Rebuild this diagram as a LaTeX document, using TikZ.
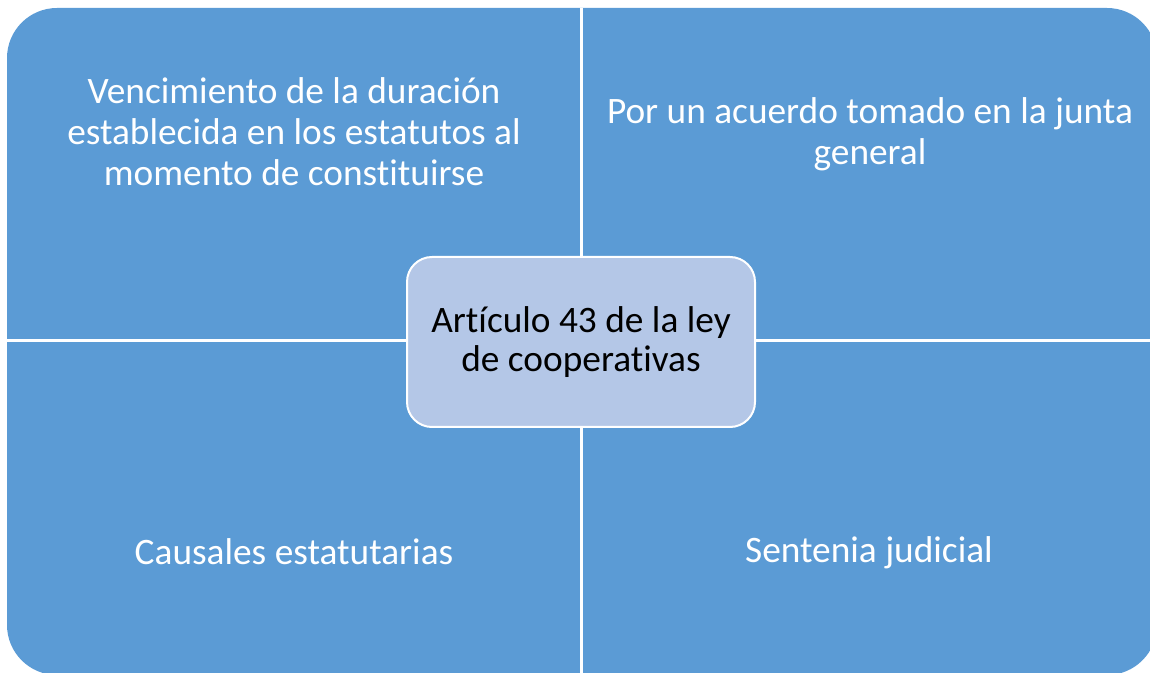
\documentclass[tikz,border=0pt]{standalone}
\usepackage{fontspec}
\setmainfont{Carlito}[Ligatures=NoCommon]
\usetikzlibrary{positioning}
\definecolor{quadblue}{HTML}{5B9BD5}
\definecolor{centreblue}{HTML}{B4C7E7}

\begin{document}
\begin{tikzpicture}[x=0.75pt,y=-0.75pt,
    quadtext/.style={text=white,align=center,font=\fontsize{28}{30.75}\selectfont},
    centrebox/.style={fill=centreblue,draw=white,line width=1.5pt,rounded corners=18.75pt,
      minimum width=261pt,minimum height=127.5pt,inner sep=0pt,align=center,
      font=\fontsize{28}{29.5}\selectfont}]
  \useasboundingbox (0,0) rectangle (1150,673);
  \clip (0,0) rectangle (1150,673);
  % the four quadrants
  \fill[quadblue,rounded corners=37.5pt] (7,8) rectangle (1157,675);
  \draw[white,line width=2.25pt] (581,8) -- (581,675) (7,341) -- (1157,341);
  \node[centrebox] (art) at (581,342) {Artículo 43 de la ley\\de cooperativas};
  \node[quadtext] (venc) at (294,132) {Vencimiento de la duración\\establecida en los estatutos al\\momento de constituirse};
  \node[quadtext] (acuerdo) at (870,134) {Por un acuerdo tomado en la junta\\general};
  \node[quadtext] (causales) at (294,552) {Causales estatutarias};
  \node[quadtext] (sentencia) at (869,553) {Sentenia judicial};
\end{tikzpicture}
\end{document}
